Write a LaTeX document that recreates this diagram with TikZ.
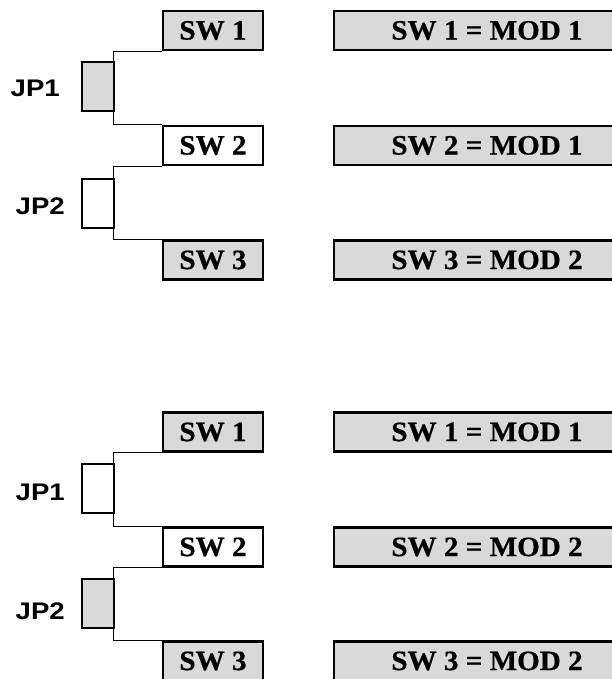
\documentclass[tikz,border=0pt]{standalone}
\usepackage{fontspec}
\usetikzlibrary{positioning}
\newfontfamily\swfont[FakeStretch=1.04, FakeBold=0.6]{Liberation Serif}
\newfontfamily\jpfont[FakeStretch=1.15]{Liberation Sans}
\definecolor{boxgray}{RGB}{217,217,217}
\tikzset{
  swbox/.style={draw, line width=2.3pt, minimum width=100pt, minimum height=39pt,
    inner sep=0pt, font={\swfont\bfseries\fontsize{28}{30}\selectfont}},
  modbox/.style={swbox, fill=boxgray, minimum width=306pt},
  jumper/.style={draw, line width=2pt, minimum width=32pt, minimum height=49pt, inner sep=0pt},
  jplabel/.style={inner sep=0pt, font={\jpfont\bfseries\fontsize{24}{26}\selectfont}},
  wire/.style={line width=1pt}
}
\begin{document}
\begin{tikzpicture}[x=1pt,y=-1pt]
				\clip (0,0) rectangle (612,679);
				% Upper setting
				\node[swbox, fill=boxgray] (sw1a) at (213,30.5) {SW 1};
				\node[swbox] (sw2a) at (213,145.5) {SW 2};
				\node[swbox, fill=boxgray] (sw3a) at (213,260) {SW 3};
				\node[modbox] (mod1a) at (487,30.5) {SW 1 = MOD 1};
				\node[modbox] (mod2a) at (487,145.5) {SW 2 = MOD 1};
				\node[modbox] (mod3a) at (487,260) {SW 3 = MOD 2};
				\node[jumper, fill=boxgray] (jp1a) at (98,86.5) {};
				\node[jumper] (jp2a) at (98,203.5) {};
				\node[jplabel, left=21pt of jp1a, yshift=-2pt] (jp1alabel) {JP1};
				\node[jplabel, left=16pt of jp2a, yshift=-3pt] (jp2alabel) {JP2};
				\draw[wire] (sw1a.south west) -- ++(-48,0) |- (sw2a.north west);
				\draw[wire] (sw2a.south west) -- ++(-48,0) |- (sw3a.north west);
				% Lower setting
				\node[swbox, fill=boxgray] (sw1b) at (213,432) {SW 1};
				\node[swbox] (sw2b) at (213,547) {SW 2};
				\node[swbox, fill=boxgray] (sw3b) at (213,661) {SW 3};
				\node[modbox] (mod1b) at (487,432) {SW 1 = MOD 1};
				\node[modbox] (mod2b) at (487,547) {SW 2 = MOD 2};
				\node[modbox] (mod3b) at (487,661) {SW 3 = MOD 2};
				\node[jumper] (jp1b) at (98,488.5) {};
				\node[jumper, fill=boxgray] (jp2b) at (98,603.5) {};
				\node[jplabel, left=16pt of jp1b, yshift=-4pt] (jp1blabel) {JP1};
				\node[jplabel, left=16pt of jp2b, yshift=-8pt] (jp2blabel) {JP2};
				\draw[wire] (sw1b.south west) -- ++(-48,0) |- (sw2b.north west);
				\draw[wire] (sw2b.south west) -- ++(-48,0) |- (sw3b.north west);
			\end{tikzpicture}
\end{document}
